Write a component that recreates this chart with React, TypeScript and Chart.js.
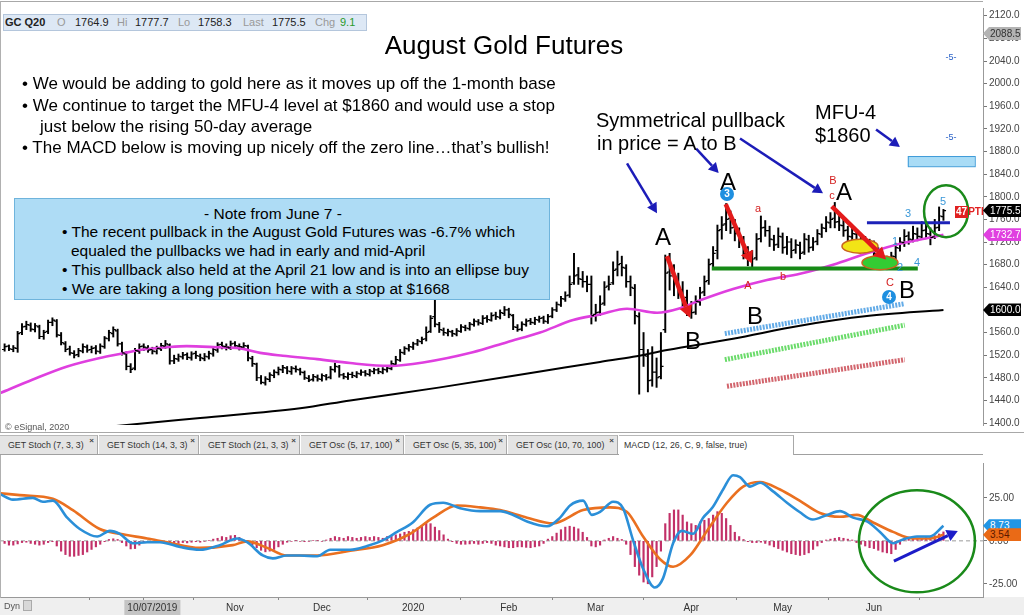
import React, { useEffect, useRef, useState } from 'react';
import { Chart, registerables } from 'chart.js';
Chart.register(...registerables);

const FONT = '"Liberation Sans", Arial, Helvetica, sans-serif';

// ---------- price data (daily OHLC, bar index 0..216) ----------
const barOpen = [
  1530,1536,1530,1532,1560,1571,1573,1565,1570,1553,
  1562,1578,1580,1555,1540,1531,1523,1521,1527,1534,
  1530,1533,1526,1535,1549,1558,1563,1540,1522,1500,
  1497,1527,1536,1533,1530,1526,1531,1536,1538,1510,
  1513,1517,1521,1515,1523,1518,1514,1517,1522,1529,
  1539,1535,1533,1541,1536,1534,1536,1514,1504,1480,
  1471,1477,1484,1489,1494,1497,1491,1496,1494,1489,
  1479,1477,1481,1477,1483,1481,1494,1499,1485,1481,
  1486,1483,1487,1490,1486,1491,1494,1490,1494,1496,
  1504,1511,1524,1531,1534,1540,1544,1549,1562,1588,
  1574,1564,1559,1561,1557,1562,1569,1567,1574,1579,
  1576,1586,1582,1591,1587,1594,1600,1590,1569,1566,
  1574,1581,1577,1582,1586,1579,1589,1600,1609,1619,
  1626,1648,1662,1654,1650,1645,1592,1596,1612,1642,
  1648,1672,1682,1674,1650,1638,1588,1530,1518,1476,
  1490,1482,1565,1667,1660,1650,1636,1622,1600,1596,
  1614,1632,1652,1682,1705,1742,1752,1762,1746,1736,
  1724,1700,1688,1692,1726,1746,1740,1724,1716,1729,
  1711,1720,1706,1714,1702,1724,1711,1721,1734,1744,
  1754,1762,1756,1749,1741,1729,1734,1719,1724,1711,
  1714,1699,1690,1686,1681,1694,1709,1719,1731,1724,
  1734,1729,1741,1734,1729,1746,1764.9,
];
const barHigh = [
  1540,1538,1537,1562,1576,1580,1577,1576,1573,1564,
  1582,1586,1583,1560,1544,1536,1528,1532,1540,1538,
  1536,1537,1540,1553,1564,1570,1566,1543,1526,1505,
  1532,1540,1540,1537,1534,1536,1541,1546,1540,1520,
  1522,1525,1524,1526,1527,1522,1523,1527,1535,1542,
  1543,1540,1545,1544,1540,1542,1538,1518,1506,1484,
  1482,1489,1494,1499,1502,1500,1500,1501,1497,1492,
  1484,1486,1485,1487,1486,1500,1506,1502,1488,1489,
  1490,1491,1494,1493,1495,1497,1497,1498,1500,1510,
  1518,1530,1535,1539,1543,1548,1552,1570,1590,1628,
  1578,1568,1566,1564,1567,1574,1573,1578,1584,1583,
  1590,1590,1595,1596,1600,1606,1603,1592,1574,1579,
  1584,1585,1587,1589,1589,1592,1604,1614,1624,1632,
  1660,1700,1675,1668,1660,1660,1610,1625,1650,1660,
  1685,1704,1695,1680,1660,1645,1595,1560,1530,1535,
  1515,1560,1697,1700,1680,1665,1650,1635,1615,1625,
  1640,1660,1690,1712,1750,1765,1788,1775,1760,1745,
  1730,1712,1705,1735,1766,1758,1748,1732,1745,1736,
  1730,1726,1724,1720,1735,1732,1728,1742,1752,1765,
  1772,1790,1768,1760,1748,1745,1740,1735,1730,1725,
  1722,1710,1700,1695,1702,1718,1728,1742,1738,1748,
  1745,1756,1752,1745,1760,1782,1777.7,
];
const barLow = [
  1527,1528,1526,1525,1556,1565,1562,1561,1549,1548,
  1558,1572,1552,1538,1526,1520,1515,1517,1524,1525,
  1524,1522,1523,1532,1545,1552,1536,1520,1494,1489,
  1494,1523,1528,1525,1522,1522,1528,1532,1504,1505,
  1509,1513,1512,1511,1514,1510,1510,1513,1518,1525,
  1531,1529,1530,1532,1529,1530,1510,1500,1475,1469,
  1467,1473,1480,1485,1489,1487,1486,1490,1485,1477,
  1473,1474,1474,1474,1476,1478,1490,1481,1478,1477,
  1480,1480,1484,1483,1483,1487,1487,1487,1490,1494,
  1502,1509,1521,1527,1530,1537,1540,1545,1560,1570,
  1560,1555,1554,1553,1554,1560,1563,1564,1571,1573,
  1574,1578,1580,1583,1584,1590,1586,1565,1562,1563,
  1571,1574,1574,1578,1576,1576,1586,1597,1606,1615,
  1622,1645,1645,1640,1632,1575,1580,1590,1608,1635,
  1645,1660,1660,1640,1625,1575,1451,1500,1455,1465,
  1463,1478,1560,1635,1625,1620,1605,1590,1585,1592,
  1608,1625,1645,1672,1690,1725,1740,1735,1722,1710,
  1690,1678,1675,1688,1720,1730,1712,1705,1710,1700,
  1698,1692,1700,1690,1698,1702,1705,1715,1728,1738,
  1745,1745,1740,1730,1718,1722,1710,1712,1700,1702,
  1692,1683,1678,1671,1675,1690,1704,1712,1716,1720,
  1722,1725,1728,1715,1726,1740,1758.3,
];
const barClose = [
  1535,1531,1533,1558,1570,1574,1566,1572,1553,1560,
  1578,1582,1556,1542,1530,1524,1520,1528,1535,1529,
  1532,1527,1536,1550,1560,1565,1540,1524,1500,1495,
  1528,1535,1534,1529,1527,1532,1537,1540,1510,1514,
  1518,1520,1516,1522,1519,1515,1518,1523,1530,1538,
  1536,1534,1540,1537,1535,1537,1515,1505,1480,1472,
  1478,1485,1490,1495,1498,1492,1497,1495,1490,1480,
  1476,1482,1478,1484,1480,1495,1500,1485,1482,1486,
  1484,1488,1490,1487,1492,1494,1491,1495,1497,1505,
  1512,1525,1532,1535,1540,1545,1548,1560,1585,1575,
  1565,1560,1562,1558,1563,1570,1568,1575,1580,1577,
  1585,1583,1590,1588,1595,1600,1592,1570,1565,1575,
  1580,1578,1583,1585,1580,1588,1600,1610,1620,1625,
  1645,1660,1655,1650,1645,1590,1595,1610,1640,1645,
  1670,1680,1675,1650,1640,1590,1530,1520,1475,1490,
  1480,1500,1665,1660,1650,1635,1620,1600,1595,1615,
  1630,1650,1680,1700,1740,1750,1760,1745,1735,1725,
  1700,1690,1690,1725,1745,1740,1725,1715,1730,1710,
  1720,1705,1715,1700,1725,1710,1720,1735,1745,1755,
  1760,1755,1750,1740,1730,1735,1720,1725,1710,1715,
  1700,1690,1685,1680,1695,1710,1720,1730,1725,1735,
  1730,1740,1735,1728,1745,1766,1775.5,
];

// moving averages: [bar index, price]
const ma50Points: [number, number][] = [
  [-1,1453],[6.5,1477],[14.4,1500],[21.9,1515],[26.5,1522],[31.1,1529],[37.4,1534],[41.9,1536],
  [48.9,1534],[54.1,1532],[58.8,1524],[64,1519],[71.9,1513],[79.5,1506],[88.7,1501],[96.3,1507],
  [107.7,1525],[115.6,1543],[123.2,1560],[130.8,1582],[137,1592],[143.2,1602],[150.1,1595],
  [155.4,1603],[160,1617],[167.6,1637],[175.4,1653],[183,1664],[190.6,1680],[198.4,1700],
  [206,1717],[213.6,1729],[216,1732.7],
];
const ma200Points: [number, number][] = [
  [22,1392],[45,1409],[68,1426],[79.5,1440],[100.2,1463],[123.2,1491],[137,1508],[144.6,1517],
  [152.4,1529],[167.6,1549],[183,1572],[198.4,1589],[216,1600],
];

// MACD (12,26,9): [bar index, value]
const macdPoints: [number, number][] = [
  [-1,27.2],[1.9,24],[6.5,25],[8.8,22.8],[11.1,23.4],[14.4,13.5],[17.3,6.9],[21.3,2.5],[24.2,5.8],
  [26.5,4.1],[29.5,-1.4],[32.8,-0.8],[35.7,-0.8],[40.4,-3.6],[44.9,-5.2],[49.5,-2.5],[53.5,1.4],
  [55.8,-0.8],[59.4,-8.5],[61.7,-10.2],[64.9,-8.5],[67.9,-8.5],[71.9,-9],[74.9,-5.2],[79.5,-5.2],
  [83.4,-3],[87,0.3],[90.3,5.2],[93.9,10.7],[97.9,21],[100.9,22.2],[104.8,19],[109.4,17.3],
  [114,17.3],[117,15.1],[120.2,11.3],[124.8,8.5],[127.8,13.5],[130.1,20.6],[133.1,23.4],
  [135.1,15.1],[137,16.8],[140,22.8],[142.3,18.9],[144.6,0.3],[146.9,-16.2],[149.6,-27.2],
  [151.5,-21.7],[153.8,-1.4],[155.8,5.8],[158.4,4.1],[160.7,13.5],[162.9,19.5],[165.3,29.9],
  [167.6,38.2],[169.2,37.1],[171.5,31.6],[173.8,33.8],[176.8,28.8],[180,22.2],[182.9,16.8],
  [185.9,12.4],[189.2,15.1],[192.2,17.3],[195.2,13.5],[198.4,11.3],[201.4,5.2],[204.4,-1.4],
  [206.7,0.8],[209.9,2.5],[212.9,2.5],[216,8.73],
];
const signalPoints: [number, number][] = [
  [-1,27.7],[3.5,26.6],[11.1,24.5],[15.7,17.9],[21.9,6.9],[26.5,4.1],[32.8,1.4],[37.4,-0.8],
  [44.9,-4.1],[52.5,-2.5],[55.8,-0.3],[60.4,-4.1],[64.9,-8.5],[71.9,-8.5],[79.5,-5.8],[87,-2.5],
  [93.3,4.1],[98.6,13.5],[104.1,20.6],[109.4,19.5],[114,17.9],[120.2,13.5],[126.2,10.2],
  [133.1,17.9],[139.3,19.5],[143.2,16.8],[146.9,2.5],[150.8,-10.7],[153.8,-15.1],[157.7,-8.5],
  [161.6,5.8],[166.2,22.2],[169.9,31.6],[173.8,34.3],[178.4,29.9],[182.9,23.4],[187.6,16.2],
  [192.2,14],[196.1,15.1],[199.8,10.7],[204.4,5.2],[209,1.4],[212.9,1.4],[216,3.54],
];
const macdHist = [
  -1.5,-2.5,-2.5,-1.8,-1,-0.8,-1.5,-2,-2.5,-2,
  -1,-0.5,-3,-6,-8,-9,-9,-8.5,-8,-6.5,
  -5,-3.5,-2,-0.5,0.8,1.2,0.8,-1,-3,-4.7,
  -4.5,-2.5,-1,-0.8,-0.5,0.3,-0.5,-1,-1.5,-1.2,
  -1.5,-1,-1.2,-0.8,-0.5,-0.8,-0.3,0.3,1,1.5,
  2.5,2,3,3.2,2,0.5,-1,-2.5,-4,-5.5,
  -6.4,-6,-5,-3.5,-2,-0.8,-0.3,0.2,-0.3,-0.5,
  -0.3,0.3,0.2,-0.3,0.5,1.5,2.5,2,1.5,2.5,
  2,1.5,2,2.5,2,2.5,2,1.5,2.5,3,
  3.5,4,5,5.5,6.5,7.5,9,10.5,10,8,
  6,3.5,1,-0.5,-1.5,-2,-2,-1.8,-1.5,-2,
  -1.5,-1,-1.5,-2.5,-3,-3.5,-4,-4,-3.5,-3.5,
  -3.8,-4,-3.5,-3,-1.5,1,2.5,4.5,6.5,8,
  8.5,8,7,5,2,-3,-3.5,-2.5,0.5,1.5,
  2.5,1.5,0.8,-2,-8,-15,-20,-24,-25,-21,
  -15,-6,10,16,18,18,15,11,10,9,
  11,12,13,15,17,16,13,9,5,2.5,
  0.8,-0.5,-1,-1,-0.8,-1.5,-2.5,-3.5,-4.5,-5.5,
  -6.5,-7.5,-8,-8.5,-8,-7,-5,-3,-1,0.5,
  1,1.5,2,1.5,1,0.5,-1,-2,-3,-4,
  -4.5,-5.5,-6.5,-7,-7.5,-5,-2,0.5,1,1.5,
  1,1.5,2,2.5,3,4,5.2,
];

// axes
const priceTicks = [1400,1440,1480,1520,1560,1600,1640,1680,1720,1760,1800,1840,1880,1920,1960,2000,2040,2080,2120];
const macdTicks = [-25, 0, 25];
const monthTickIdx = [9, 30, 34, 53, 73, 94, 116, 136, 158, 179, 200];
const monthTickLabels = ['', '', '10/07/2019', 'Nov', 'Dec', '2020', 'Feb', 'Mar', 'Apr', 'May', 'Jun'];
const X_MIN = -1.06;
const X_MAX = 225.1;

// annotations in data space: [idx1, price1, idx2, price2]
const blueArrows = [
  [143.2, 1859, 150.1, 1771],
  [159.1, 1885, 164.3, 1842],
  [169.2, 1903, 188.3, 1806],
  [200.5, 1919, 206.0, 1888],
];
const redArrows = [
  [152.4, 1695, 157.7, 1586],
  [165.9, 1787, 171.9, 1682],
  [190.3, 1783, 202.8, 1689],
];
const channelLines = [
  { from: [165.7, 1558], to: [207.1, 1611], color: 'rgba(60,150,225,0.8)' },
  { from: [165.7, 1512], to: [207.1, 1573], color: 'rgba(70,210,70,0.8)' },
  { from: [166.2, 1465], to: [207.1, 1512], color: 'rgba(195,50,60,0.75)' },
];
const supportLine = { x1: 162.7, x2: 210.1, y: 1673 };
const resistLine = { x1: 198.4, x2: 217.5, y: 1754 };
const targetBox = { x1: 207.8, x2: 223.2, y1: 1854, y2: 1872 };
const ellipses = [
  { x: 196.8, y: 1712.7, fill: '#f2e416' },
  { x: 201.4, y: 1683.5, fill: '#33cc33' },
];
const topCircle = { x: 216.6, y: 1774.6 };
const macdCircle = { x: 209.9, y: -0.3 };
const macdArrow = [204.6, -11.8, 219.3, 5.8];

function drawArrow(ctx: CanvasRenderingContext2D, x1: number, y1: number, x2: number, y2: number, color: string, w: number, head: number) {
  const a = Math.atan2(y2 - y1, x2 - x1);
  const bx = x2 - head * Math.cos(a);
  const by = y2 - head * Math.sin(a);
  ctx.strokeStyle = color;
  ctx.lineWidth = w;
  ctx.lineCap = 'butt';
  ctx.beginPath();
  ctx.moveTo(x1, y1);
  ctx.lineTo(bx, by);
  ctx.stroke();
  ctx.fillStyle = color;
  ctx.beginPath();
  ctx.moveTo(x2, y2);
  ctx.lineTo(bx + head * 0.55 * Math.sin(a), by - head * 0.55 * Math.cos(a));
  ctx.lineTo(bx - head * 0.55 * Math.sin(a), by + head * 0.55 * Math.cos(a));
  ctx.closePath();
  ctx.fill();
}

const ohlcTicksPlugin = {
  id: 'ohlcTicks',
  afterDatasetsDraw(chart: any) {
    const { ctx, chartArea } = chart;
    const xs = chart.scales.x;
    const ys = chart.scales.y;
    ctx.save();
    ctx.beginPath();
    ctx.rect(chartArea.left, chartArea.top, chartArea.right - chartArea.left, chartArea.bottom - chartArea.top);
    ctx.clip();
    ctx.strokeStyle = '#000';
    ctx.lineWidth = 1.2;
    ctx.beginPath();
    for (let i = 0; i < barClose.length; i++) {
      const px = xs.getPixelForValue(i);
      const po = ys.getPixelForValue(barOpen[i]);
      const pc = ys.getPixelForValue(barClose[i]);
      ctx.moveTo(px - 2.6, po);
      ctx.lineTo(px, po);
      ctx.moveTo(px, pc);
      ctx.lineTo(px + 2.6, pc);
    }
    ctx.stroke();
    ctx.restore();
  },
};

const topAnnotations = {
  id: 'topAnnotations',
  afterDraw(chart: any) {
    const { ctx } = chart;
    const X = (v: number) => chart.scales.x.getPixelForValue(v);
    const Y = (v: number) => chart.scales.y.getPixelForValue(v);
    ctx.save();
    channelLines.forEach((l) => {
      ctx.strokeStyle = l.color;
      ctx.lineWidth = 5;
      ctx.setLineDash([2, 1.2]);
      ctx.beginPath();
      ctx.moveTo(X(l.from[0]), Y(l.from[1]));
      ctx.lineTo(X(l.to[0]), Y(l.to[1]));
      ctx.stroke();
    });
    ctx.setLineDash([]);
    ctx.strokeStyle = '#168a16';
    ctx.lineWidth = 4;
    ctx.beginPath();
    ctx.moveTo(X(supportLine.x1), Y(supportLine.y));
    ctx.lineTo(X(supportLine.x2), Y(supportLine.y));
    ctx.stroke();
    ctx.strokeStyle = '#1c22b8';
    ctx.lineWidth = 3;
    ctx.beginPath();
    ctx.moveTo(X(resistLine.x1), Y(resistLine.y));
    ctx.lineTo(X(resistLine.x2), Y(resistLine.y));
    ctx.stroke();
    ellipses.forEach((e) => {
      ctx.fillStyle = e.fill;
      ctx.strokeStyle = '#c8641e';
      ctx.lineWidth = 1.5;
      ctx.beginPath();
      ctx.ellipse(X(e.x), Y(e.y), 18, 7, 0, 0, Math.PI * 2);
      ctx.fill();
      ctx.stroke();
    });
    redArrows.forEach((a) => drawArrow(ctx, X(a[0]), Y(a[1]), X(a[2]), Y(a[3]), '#e31b1b', 4.5, 12));
    blueArrows.forEach((a) => drawArrow(ctx, X(a[0]), Y(a[1]), X(a[2]), Y(a[3]), '#1c1cb8', 2.5, 10));
    ctx.strokeStyle = '#1a8a1a';
    ctx.lineWidth = 2.5;
    ctx.beginPath();
    ctx.ellipse(X(topCircle.x), Y(topCircle.y), 22, 26, 0, 0, Math.PI * 2);
    ctx.stroke();
    ctx.fillStyle = '#a9dcf6';
    ctx.strokeStyle = '#3d9bd8';
    ctx.lineWidth = 1;
    const bx = X(targetBox.x1), by = Y(targetBox.y2);
    const bw = X(targetBox.x2) - bx, bh = Y(targetBox.y1) - by;
    ctx.fillRect(bx, by, bw, bh);
    ctx.strokeRect(bx + 0.5, by + 0.5, bw, bh);
    ctx.restore();
  },
};

const bottomDecor = {
  id: 'bottomDecor',
  beforeDraw(chart: any) {
    const { ctx, chartArea, width, height } = chart;
    ctx.save();
    ctx.fillStyle = '#ffffff';
    ctx.fillRect(0, 0, width, height);
    ctx.fillStyle = '#efefef';
    ctx.fillRect(0, chartArea.bottom, width, height - chartArea.bottom);
    ctx.restore();
  },
  afterDraw(chart: any) {
    const { ctx } = chart;
    const X = (v: number) => chart.scales.x.getPixelForValue(v);
    const Y = (v: number) => chart.scales.y.getPixelForValue(v);
    ctx.save();
    ctx.strokeStyle = '#1a8a1a';
    ctx.lineWidth = 2.5;
    ctx.beginPath();
    ctx.ellipse(X(macdCircle.x), Y(macdCircle.y), 58, 51, 0, 0, Math.PI * 2);
    ctx.stroke();
    drawArrow(ctx, X(macdArrow[0]), Y(macdArrow[1]), X(macdArrow[2]), Y(macdArrow[3]), '#1c1cc8', 3, 11);
    ctx.restore();
  },
};

type Tag = { top: number; text: string; bg: string; fg: string };

const Txt = (p: { x: number; y: number; s: number; c?: string; b?: boolean; center?: boolean; children: React.ReactNode }) => (
  <div
    style={{
      position: 'absolute',
      left: p.x,
      top: p.y,
      fontSize: p.s,
      color: p.c || '#000',
      fontWeight: p.b ? 'bold' : 'normal',
      fontFamily: FONT,
      lineHeight: 1,
      whiteSpace: 'nowrap',
      transform: p.center ? 'translate(-50%,-50%)' : 'translateY(-50%)',
    }}
  >
    {p.children}
  </div>
);

const Circ = (p: { x: number; y: number; n: string }) => (
  <div
    style={{
      position: 'absolute', left: p.x - 7, top: p.y - 7, width: 14, height: 14, borderRadius: 7,
      background: '#1e8fe0', color: '#fff', fontFamily: FONT, fontSize: 10, fontWeight: 'bold',
      lineHeight: '14px', textAlign: 'center',
    }}
  >
    {p.n}
  </div>
);

const tabs = [
  { l: 0, w: 98, t: 'GET Stoch (7, 3, 3)' },
  { l: 99, w: 100, t: 'GET Stoch (14, 3, 3)' },
  { l: 200, w: 100, t: 'GET Stoch (21, 3, 3)' },
  { l: 301, w: 103, t: 'GET Osc (5, 17, 100)' },
  { l: 405, w: 102, t: 'GET Osc (5, 35, 100)' },
  { l: 508, w: 110, t: 'GET Osc (10, 70, 100)' },
];

export default function App() {
  const topRef = useRef<HTMLCanvasElement>(null);
  const botRef = useRef<HTMLCanvasElement>(null);
  const [tags, setTags] = useState<Tag[]>([]);

  useEffect(() => {
    const top = new Chart(topRef.current as HTMLCanvasElement, {
      type: 'bar',
      data: {
        datasets: [
          {
            type: 'line', label: '50-day', data: ma50Points.map(([x, y]) => ({ x, y })),
            borderColor: '#df3fdf', borderWidth: 2.6, pointRadius: 0, cubicInterpolationMode: 'monotone', order: 1,
          } as any,
          {
            type: 'line', label: '200-day', data: ma200Points.map(([x, y]) => ({ x, y })),
            borderColor: '#000000', borderWidth: 2, pointRadius: 0, cubicInterpolationMode: 'monotone', order: 2,
          } as any,
          {
            type: 'bar', label: 'GC Q20', data: barHigh.map((h, i) => ({ x: i, y: [barLow[i], h] })),
            backgroundColor: '#000000', barThickness: 1.3, order: 3,
          } as any,
        ],
      },
      options: {
        animation: false, responsive: false, maintainAspectRatio: false, devicePixelRatio: 1,
        layout: { padding: { top: 3, bottom: 1, left: 0, right: 0 }, autoPadding: false },
        plugins: { legend: { display: false }, tooltip: { enabled: false } },
        scales: {
          x: { type: 'linear', min: X_MIN, max: X_MAX, display: false, offset: false },
          y: {
            position: 'right', min: 1396.5, max: 2133.7,
            afterBuildTicks: (s: any) => { s.ticks = priceTicks.map((v) => ({ value: v })); },
            afterFit: (s: any) => { s.width = 41; },
            grid: { drawOnChartArea: false, tickLength: 4, color: '#777' },
            border: { color: '#999' },
            ticks: { font: { size: 10, family: FONT }, color: '#444', padding: 2, callback: (v: any) => Number(v).toFixed(1) },
          },
        },
      } as any,
      plugins: [ohlcTicksPlugin, topAnnotations],
    });

    const bot = new Chart(botRef.current as HTMLCanvasElement, {
      type: 'bar',
      data: {
        datasets: [
          {
            type: 'line', label: 'MACD', data: macdPoints.map(([x, y]) => ({ x, y })),
            borderColor: '#2b8fd8', borderWidth: 2.6, pointRadius: 0, cubicInterpolationMode: 'monotone', order: 1,
          } as any,
          {
            type: 'line', label: 'Signal', data: signalPoints.map(([x, y]) => ({ x, y })),
            borderColor: '#ea7020', borderWidth: 2.6, pointRadius: 0, cubicInterpolationMode: 'monotone', order: 2,
          } as any,
          {
            type: 'bar', label: 'Histogram', data: macdHist.map((v, i) => ({ x: i, y: v })),
            backgroundColor: '#c23068', barThickness: 1.5, order: 3,
          } as any,
          {
            type: 'line', label: 'zero', data: [{ x: X_MIN, y: 0 }, { x: X_MAX, y: 0 }],
            borderColor: '#9a9a9a', borderWidth: 1, borderDash: [4, 3], pointRadius: 0, order: 4,
          } as any,
        ],
      },
      options: {
        animation: false, responsive: false, maintainAspectRatio: false, devicePixelRatio: 1,
        layout: { padding: 0, autoPadding: false },
        plugins: { legend: { display: false }, tooltip: { enabled: false } },
        scales: {
          x: {
            type: 'linear', min: X_MIN, max: X_MAX, offset: false,
            afterBuildTicks: (s: any) => { s.ticks = monthTickIdx.map((v) => ({ value: v })); },
            afterFit: (s: any) => { s.height = 18; },
            grid: { drawOnChartArea: false, tickLength: 3, color: '#888' },
            border: { color: '#999' },
            ticks: {
              autoSkip: false, maxRotation: 0, font: { size: 10, family: FONT }, color: '#333', padding: 2,
              callback: (_v: any, i: number) => monthTickLabels[i],
              showLabelBackdrop: true,
              backdropColor: (c: any) => (c.index === 2 ? '#c4c4c4' : 'rgba(0,0,0,0)'),
              backdropPadding: { top: 2, bottom: 2, left: 3, right: 3 },
            },
          },
          y: {
            position: 'right', min: -32.7, max: 45.33,
            afterBuildTicks: (s: any) => { s.ticks = macdTicks.map((v) => ({ value: v })); },
            afterFit: (s: any) => { s.width = 41; },
            grid: { drawOnChartArea: false, tickLength: 4, color: '#777' },
            border: { color: '#999' },
            ticks: { font: { size: 10, family: FONT }, color: '#444', padding: 2, callback: (v: any) => Number(v).toFixed(2) },
          },
        },
      } as any,
      plugins: [bottomDecor],
    });

    const ty = top.scales.y;
    const by = bot.scales.y;
    const lastMacd = macdPoints[macdPoints.length - 1][1];
    const lastSig = signalPoints[signalPoints.length - 1][1];
    setTags([
      { top: ty.getPixelForValue(2088.5), text: '2088.5', bg: '#b3b3b3', fg: '#333' },
      { top: ty.getPixelForValue(barClose[barClose.length - 1]), text: barClose[barClose.length - 1].toFixed(1), bg: '#000', fg: '#fff' },
      { top: ty.getPixelForValue(ma50Points[ma50Points.length - 1][1]), text: ma50Points[ma50Points.length - 1][1].toFixed(1), bg: '#e040e0', fg: '#fff' },
      { top: ty.getPixelForValue(ma200Points[ma200Points.length - 1][1]), text: ma200Points[ma200Points.length - 1][1].toFixed(1), bg: '#000', fg: '#fff' },
      { top: 455 + by.getPixelForValue(lastMacd), text: lastMacd.toFixed(2), bg: '#2196e6', fg: '#fff' },
      { top: 455 + by.getPixelForValue(lastSig), text: lastSig.toFixed(2), bg: '#ea6a16', fg: '#5a1800' },
    ]);

    return () => {
      top.destroy();
      bot.destroy();
    };
  }, []);

  const hdr: [string, number, string, boolean][] = [
    ['GC Q20', 5, '#222', true], ['O', 57, '#999', false], ['1764.9', 75, '#222', false],
    ['Hi', 117, '#999', false], ['1777.7', 135, '#222', false], ['Lo', 178, '#999', false],
    ['1758.3', 198, '#222', false], ['Last', 243, '#999', false], ['1775.5', 272, '#222', false],
    ['Chg', 315, '#999', false], ['9.1', 340, '#2a9a2a', false],
  ];

  return (
    <div style={{ position: 'absolute', left: 0, top: 0, width: 1024, height: 615, background: '#fff', overflow: 'hidden', fontFamily: FONT }}>
      <canvas ref={topRef} width={1024} height={433} style={{ position: 'absolute', left: 0, top: 0, width: 1024, height: 433, display: 'block' }} />
      <canvas ref={botRef} width={1024} height={160} style={{ position: 'absolute', left: 0, top: 455, width: 1024, height: 160, display: 'block' }} />

      {/* frame lines */}
      <div style={{ position: 'absolute', left: 0, top: 1, width: 983, height: 1, background: '#a8a8a8' }} />
      <div style={{ position: 'absolute', left: 0, top: 1, width: 1, height: 597, background: '#b0b0b0' }} />
      <div style={{ position: 'absolute', left: 0, top: 432, width: 1024, height: 1, background: '#a8a8a8' }} />

      {/* tabs row */}
      <div style={{ position: 'absolute', left: 0, top: 433, width: 1024, height: 22, background: '#fff' }} />
      <div style={{ position: 'absolute', left: 0, top: 454, width: 983, height: 1, background: '#a0a0a0' }} />
      {tabs.map((t, i) => (
        <div key={i} style={{ position: 'absolute', left: t.l, top: 435, width: t.w, height: 19, background: '#e4e4e4', borderRight: '1px solid #a8a8a8', borderTop: '1px solid #b8b8b8', boxSizing: 'border-box' }}>
          <span style={{ position: 'absolute', left: 8, top: 5, fontSize: 8.8, color: '#333', whiteSpace: 'nowrap', lineHeight: 1 }}>{t.t}</span>
          <span style={{ position: 'absolute', right: 3, top: 1, fontSize: 8, fontWeight: 'bold', color: '#444', lineHeight: 1 }}>×</span>
        </div>
      ))}
      <div style={{ position: 'absolute', left: 619, top: 435, width: 175, height: 20, background: '#fff', borderRight: '1px solid #a8a8a8', borderTop: '1px solid #b8b8b8', boxSizing: 'border-box' }}>
        <span style={{ position: 'absolute', left: 5, top: 5, fontSize: 8.8, color: '#333', whiteSpace: 'nowrap', lineHeight: 1 }}>MACD (12, 26, C, 9, false, true)</span>
      </div>

      {/* header box */}
      <div style={{ position: 'absolute', left: 3, top: 14, width: 362, height: 15, background: '#dde8f5', border: '1px solid #b4c6dc' }} />
      {hdr.map(([t, x, c, b], i) => (
        <Txt key={i} x={x} y={22} s={11} c={c} b={b}>{t}</Txt>
      ))}

      {/* title & commentary */}
      <Txt x={504} y={45} s={26} center>August Gold Futures</Txt>
      <Txt x={22} y={83} s={17}>• We would be adding to gold here as it moves up off the 1-month base</Txt>
      <Txt x={22} y={105} s={17}>• We continue to target the MFU-4 level at $1860 and would use a stop</Txt>
      <Txt x={40} y={126} s={17}>just below the rising 50-day average</Txt>
      <Txt x={22} y={147} s={17}>• The MACD below is moving up nicely off the zero line…that’s bullish!</Txt>

      {/* note box */}
      <div style={{ position: 'absolute', left: 14, top: 198, width: 536, height: 102, background: '#aedcf5', border: '1px solid #6fb4dc', boxSizing: 'border-box' }} />
      <Txt x={273} y={214} s={15.5} center>- Note from June 7 -</Txt>
      <Txt x={62} y={232} s={15.5}>• The recent pullback in the August Gold Futures was -6.7% which</Txt>
      <Txt x={71} y={251} s={15.5}>equaled the pullbacks we had in early and mid-April</Txt>
      <Txt x={62} y={270} s={15.5}>• This pullback also held at the April 21 low and is into an ellipse buy</Txt>
      <Txt x={62} y={289} s={15.5}>• We are taking a long position here with a stop at $1668</Txt>

      {/* chart annotations text */}
      <Txt x={596} y={120} s={20}>Symmetrical pullback</Txt>
      <Txt x={597} y={143} s={20}>in price = A to B</Txt>
      <Txt x={815} y={112} s={20}>MFU-4</Txt>
      <Txt x={815} y={135} s={20}>$1860</Txt>
      <Txt x={663} y={237} s={24} center>A</Txt>
      <Txt x={728} y={182} s={24} center>A</Txt>
      <Txt x={844} y={192} s={24} center>A</Txt>
      <Txt x={693} y={341} s={24} center>B</Txt>
      <Txt x={755} y={316} s={24} center>B</Txt>
      <Txt x={907} y={290} s={24} center>B</Txt>
      <Txt x={758} y={208} s={11} c="#d42020" center>a</Txt>
      <Txt x={748} y={285} s={11} c="#d42020" center>A</Txt>
      <Txt x={783} y={276} s={11} c="#d42020" center>b</Txt>
      <Txt x={833} y={180} s={11} c="#d42020" center>B</Txt>
      <Txt x={832} y={195} s={11} c="#d42020" center>c</Txt>
      <Txt x={890} y={282} s={11} c="#d42020" center>C</Txt>
      <Circ x={727} y={194} n="3" />
      <Circ x={889} y={297} n="4" />
      <Txt x={895} y={241} s={11} c="#3a98d8" center>1</Txt>
      <Txt x={900} y={267} s={11} c="#3a98d8" center>2</Txt>
      <Txt x={908} y={213} s={11} c="#3a98d8" center>3</Txt>
      <Txt x={917} y={262} s={11} c="#3a98d8" center>4</Txt>
      <Txt x={943} y={201} s={11} c="#3a98d8" center>5</Txt>
      <Txt x={951} y={57} s={9} c="#2a62c8" center>-5-</Txt>
      <Txt x={951} y={137} s={9} c="#2a62c8" center>-5-</Txt>
      <div style={{ position: 'absolute', left: 955, top: 206, height: 12, display: 'flex', alignItems: 'center', fontFamily: FONT, fontSize: 10, fontWeight: 'bold', lineHeight: 1 }}>
        <span style={{ background: '#e02020', color: '#fff', padding: '1px 1px' }}>47</span>
        <span style={{ color: '#e02020' }}>PTI</span>
      </div>
      <Txt x={5} y={427} s={9} c="#555">© eSignal, 2020</Txt>
      <Txt x={4} y={606} s={9} c="#555">Dyn</Txt>
      <div style={{ position: 'absolute', left: 23, top: 600, width: 9, height: 11, background: '#d8d8d8', border: '1px solid #aaa', boxSizing: 'border-box' }} />

      {/* axis value tags */}
      {tags.map((t, i) => (
        <div key={i} style={{
          position: 'absolute', left: 983, top: t.top - 6.5, width: 38, height: 13, background: t.bg, color: t.fg,
          fontFamily: FONT, fontSize: 10, lineHeight: '13px', paddingLeft: 7, boxSizing: 'border-box',
          clipPath: 'polygon(0 50%, 6px 0, 100% 0, 100% 100%, 6px 100%)',
        }}>{t.text}</div>
      ))}
    </div>
  );
}
